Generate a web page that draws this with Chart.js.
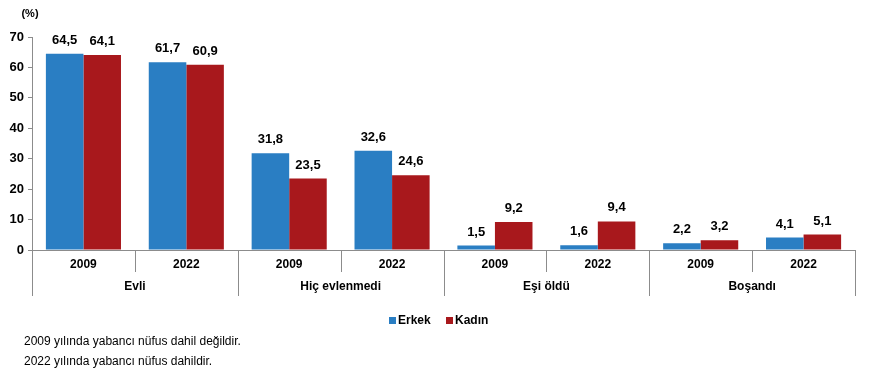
<!DOCTYPE html>
<html>
<head>
<meta charset="utf-8">
<script src="https://cdn.jsdelivr.net/npm/chart.js@4.4.0/dist/chart.umd.min.js"></script>
<style>
  html, body { margin: 0; padding: 0; background: #fff; }
  #wrap { position: relative; width: 871px; height: 377px; }
  #c { position: absolute; left: 0; top: 0; }
  .note { position: absolute; left: 24px; font: 12px "Liberation Sans", Arial, sans-serif; color: #000; white-space: nowrap; }
</style>
</head>
<body>
<div id="wrap">
  <canvas id="c" width="871" height="377"></canvas>
  <div class="note" style="top:334px">2009 yılında yabancı nüfus dahil değildir.</div>
  <div class="note" style="top:354px">2022 yılında yabancı nüfus dahildir.</div>
</div>
<script>
const groups = ["Evli", "Hiç evlenmedi", "Eşi öldü", "Boşandı"];
const years = ["2009", "2022"];
const categories = ["Evli 2009", "Evli 2022", "Hiç evlenmedi 2009", "Hiç evlenmedi 2022", "Eşi öldü 2009", "Eşi öldü 2022", "Boşandı 2009", "Boşandı 2022"];
const erkek = [64.5, 61.7, 31.8, 32.6, 1.5, 1.6, 2.2, 4.1];
const kadin = [64.1, 60.9, 23.5, 24.6, 9.2, 9.4, 3.2, 5.1];
const seriesNames = ["Erkek", "Kadın"];
const yTicks = [0, 10, 20, 30, 40, 50, 60, 70];
const unitLabel = "(%)";

const BLUE = "#2A7EC3";
const RED = "#A8181C";
const GRAY = "#8C8C8C";
const FONT = '"Liberation Sans", Arial, sans-serif';

function fmt(v) { return v.toFixed(1).replace(".", ","); }

const overlay = {
  id: "overlay",
  afterDraw(chart) {
    const ctx = chart.ctx;
    const xs = chart.scales.x;
    const area = chart.chartArea;
    const step = xs.getPixelForValue(1) - xs.getPixelForValue(0);
    ctx.save();
    // separators
    ctx.strokeStyle = GRAY;
    ctx.lineWidth = 1;
    for (let i = 0; i <= categories.length; i++) {
      const x = Math.round(xs.getPixelForValue(0) - step / 2 + i * step) + 0.5;
      const len = (i % 2 === 0) ? 46 : 22;
      ctx.beginPath();
      ctx.moveTo(x, area.bottom);
      ctx.lineTo(x, area.bottom + len);
      ctx.stroke();
    }
    // year labels
    ctx.fillStyle = "#000";
    ctx.font = "bold 12px " + FONT;
    ctx.textAlign = "center";
    ctx.textBaseline = "middle";
    for (let i = 0; i < categories.length; i++) {
      ctx.fillText(years[i % 2], xs.getPixelForValue(i), area.bottom + 15);
    }
    // group labels
    for (let g = 0; g < groups.length; g++) {
      const x = (xs.getPixelForValue(2 * g) + xs.getPixelForValue(2 * g + 1)) / 2;
      ctx.fillText(groups[g], x, area.bottom + 37);
    }
    // value labels
    ctx.font = "bold 13px " + FONT;
    ctx.textBaseline = "bottom";
    chart.data.datasets.forEach((ds, di) => {
      const meta = chart.getDatasetMeta(di);
      meta.data.forEach((bar, i) => {
        ctx.fillText(fmt(ds.data[i]), bar.x, bar.y - 7);
      });
    });
    // unit label
    ctx.font = "bold 11px " + FONT;
    ctx.textBaseline = "middle";
    ctx.fillText(unitLabel, 30, 14);
    // legend
    const colors = [BLUE, RED];
    const lx = [389, 446];
    ctx.font = "bold 12px " + FONT;
    ctx.textAlign = "left";
    for (let k = 0; k < 2; k++) {
      ctx.fillStyle = colors[k];
      ctx.fillRect(lx[k], 317, 7, 7);
      ctx.fillStyle = "#000";
      ctx.fillText(seriesNames[k], lx[k] + 9, 321);
    }
    ctx.restore();
  }
};

new Chart(document.getElementById("c"), {
  type: "bar",
  data: {
    labels: categories,
    datasets: [
      { label: seriesNames[0], data: erkek, backgroundColor: BLUE, borderWidth: 0 },
      { label: seriesNames[1], data: kadin, backgroundColor: RED, borderWidth: 0 }
    ]
  },
  options: {
    responsive: false,
    animation: false,
    devicePixelRatio: 1,
    layout: { padding: { top: 37, right: 16, left: 0, bottom: 0 } },
    plugins: { legend: { display: false }, tooltip: { enabled: false } },
    datasets: { bar: { categoryPercentage: 0.73, barPercentage: 1.0 } },
    scales: {
      x: {
        ticks: { display: false },
        grid: { display: false },
        border: { color: GRAY, width: 1 },
        afterFit(s) { s.height = 127; }
      },
      y: {
        min: 0, max: 70,
        afterBuildTicks(s) { s.ticks = yTicks.map(v => ({ value: v })); },
        ticks: { color: "#000", font: { family: FONT, size: 13, weight: "bold" }, padding: 4 },
        grid: { drawOnChartArea: false, drawTicks: true, tickLength: 4, color: GRAY },
        border: { color: GRAY, width: 1 },
        afterFit(s) { s.width = 32; }
      }
    }
  },
  plugins: [overlay]
});
</script>
</body>
</html>
